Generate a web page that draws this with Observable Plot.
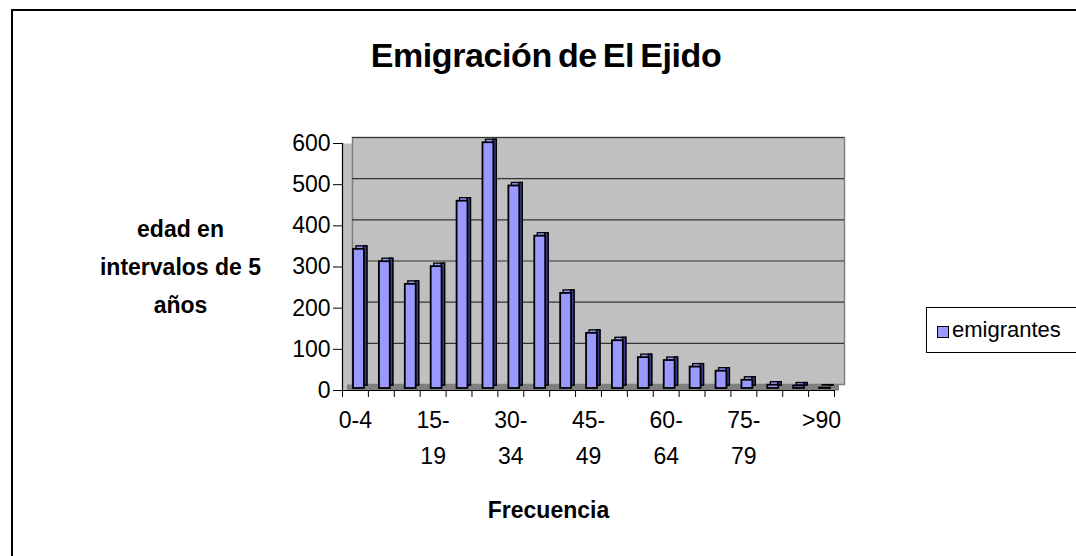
<!DOCTYPE html>
<html>
<head>
<meta charset="utf-8">
<script src="https://cdn.jsdelivr.net/npm/d3@7"></script>
<script src="https://cdn.jsdelivr.net/npm/@observablehq/plot@0.6"></script>
<style>
html, body { margin: 0; padding: 0; background: #fff; overflow: hidden; }
body { width: 1076px; height: 556px; position: relative; font-family: "Liberation Sans", Arial, sans-serif; color: #000; }
#borde { position: absolute; left: 11px; top: 9px; width: 1200px; height: 700px; border-top: 2px solid #000; border-left: 2px solid #000; pointer-events: none; z-index: 2; }
#titulo { height: 90px; box-sizing: border-box; padding-top: 37px; padding-left: 16px; text-align: center; font-weight: bold; font-size: 34px; line-height: 36px; letter-spacing: -0.4px; word-spacing: -3px; }
#grafico { height: 466px; }
#leyenda { position: absolute; left: 926px; top: 307px; width: 200px; height: 46px; border: 1px solid #000; box-sizing: border-box; z-index: 3; background: #fff; }
#leyenda .muestra { position: absolute; left: 10px; top: 18px; width: 10px; height: 10px; border: 1px solid #000; background: #9999ff; }
#leyenda .texto { position: absolute; left: 25px; top: 9px; font-size: 22px; line-height: 26px; }
</style>
</head>
<body>
<div id="borde"></div>
<div id="titulo">Emigración de El Ejido</div>
<div id="grafico"></div>
<div id="leyenda"><span class="muestra"></span><span class="texto">emigrantes</span></div>
<script>
const categorias = ["0-4","5-9","10-14","15-19","20-24","25-29","30-34","35-39","40-44","45-49","50-54","55-59","60-64","65-69","70-74","75-79","80-84","85-89",">90"];
const emigrantes = [338,308,253,296,455,597,492,370,231,134,116,75,68,52,42,20,8,6,1];
const marcasY = [0,100,200,300,400,500,600];
const tituloY = "edad en\nintervalos de 5\naños";
const tituloX = "Frecuencia";

const datos = categorias.map((c, i) => ({edad: c, valor: emigrantes[i]}));

const W = 1076, ML = 342, MR = 242;
const paso = (W - ML - MR) / categorias.length;
const inset = 7.5;

const etiqueta = (d, i) => {
  if (i % 3 !== 0) return "";
  return d.length > 4 ? d.replace("-", "-\n") : d;
};

const chart = Plot.plot({
  width: W,
  height: 466,
  marginLeft: ML,
  marginRight: MR,
  marginTop: 53,
  marginBottom: 166,
  style: {background: "transparent", overflow: "visible", fontFamily: "Liberation Sans, Arial, sans-serif", color: "#000"},
  x: {domain: categorias, padding: 0, round: false, axis: null, label: null},
  y: {domain: [0, 600], axis: null, label: null},
  marks: [
    // paredes
    Plot.frame({fill: "#c0c0c0"}),
    Plot.frame({fill: "#c0c0c0", stroke: "#808080", strokeWidth: 1.5, dx: 10, dy: -6}),
    Plot.ruleY(marcasY.slice(1), {dx: 10, dy: -6, stroke: "#333", strokeWidth: 1.2}),
    // suelo
    Plot.ruleY([0], {stroke: "#808080", strokeWidth: 6, dx: 5, dy: -3}),
    // barras 3D: cara superior, lateral, frontal
    Plot.barY(datos, {x: "edad", y: "valor", fill: "#9999ff", stroke: "#000", strokeWidth: 1.3, insetLeft: inset, insetRight: inset, dx: 6.5, dy: -5}),
    Plot.barY(datos, {x: "edad", y: "valor", fill: "#3c3c8c", stroke: "#000", strokeWidth: 1.3, insetLeft: paso - inset - 3.5, insetRight: inset, dx: 6.5, dy: -5}),
    Plot.barY(datos, {x: "edad", y: "valor", fill: "#9999ff", stroke: "#000", strokeWidth: 1.8, insetLeft: inset, insetRight: inset, dx: 3.5, dy: -2}),
    // ejes
    Plot.ruleY([0], {stroke: "#000", strokeWidth: 1.2}),
    Plot.ruleX([categorias[0]], {y1: 0, y2: 600, dx: -paso / 2, stroke: "#000", strokeWidth: 1.2}),
    Plot.ruleX(categorias, {x: d => d, y1: 0, y2: -17, dx: -paso / 2, stroke: "#000"}),
    Plot.ruleX([categorias[categorias.length - 1]], {y1: 0, y2: -17, dx: paso / 2, stroke: "#000"}),
    Plot.axisY({ticks: marcasY, tickSize: 9, tickPadding: 3, fontSize: 23, anchor: "left", stroke: "#000", label: null}),
    Plot.axisX({tickSize: 0, tickPadding: 11, fontSize: 23, lineHeight: 1.6, tickFormat: etiqueta, label: null}),
    // títulos de ejes
    Plot.text([tituloY], {text: d => d, frameAnchor: "left", dx: -162, dy: -4, textAnchor: "middle", fontSize: 23, fontWeight: "bold", lineHeight: 1.65, letterSpacing: 0.3, fill: "#000"}),
    Plot.text([tituloX], {text: d => d, frameAnchor: "bottom", dx: -40, dy: 127, textAnchor: "middle", fontSize: 23, fontWeight: "bold", fill: "#000"})
  ]
});
document.getElementById("grafico").appendChild(chart);
</script>
</body>
</html>
